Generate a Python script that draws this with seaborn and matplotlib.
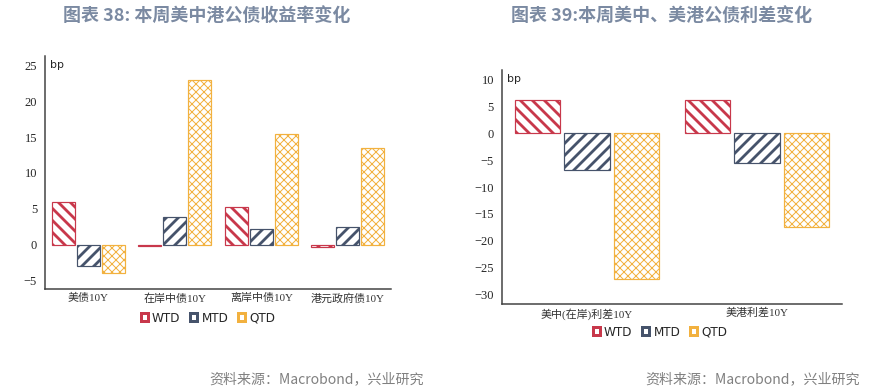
import pandas as pd
import numpy as np
import seaborn as sns
import matplotlib.pyplot as plt
from matplotlib.patches import Patch

# ---- data ----
series = ['WTD', 'MTD', 'QTD']

cats_l = ['美债10Y', '在岸中债10Y', '离岸中债10Y', '港元政府债10Y']
wtd_l = [6.0, -0.2, 5.3, -0.3]
mtd_l = [-3.0, 3.9, 2.1, 2.5]
qtd_l = [-4.0, 23.0, 15.4, 13.4]

cats_r = ['美中(在岸)利差10Y', '美港利差10Y']
wtd_r = [6.2, 6.2]
mtd_r = [-6.9, -5.6]
qtd_r = [-27.0, -17.4]

title_l = '图表 38: 本周美中港公债收益率变化'
title_r = '图表 39:本周美中、美港公债利差变化'
source = '资料来源：Macrobond，兴业研究'

colors = {'WTD': '#C8384B', 'MTD': '#46536B', 'QTD': '#F2B13F'}
hatches = {'WTD': '\\\\', 'MTD': '//', 'QTD': 'xxx'}
hatch_lw = {'WTD': 2.8, 'MTD': 2.8, 'QTD': 1.0}

sns.set_style('white')
plt.rcParams['font.family'] = ['Liberation Serif', 'Noto Sans CJK SC']
plt.rcParams['hatch.linewidth'] = 2.0
axis_col = '#404040'


def to_long(cats, w, m, q):
    rows = []
    for s, vals in zip(series, [w, m, q]):
        for c, v in zip(cats, vals):
            rows.append({'cat': c, 'series': s, 'val': v})
    return pd.DataFrame(rows)


def draw(ax, df, cats, ylim, yticks, legend_xy):
    sns.barplot(data=df, x='cat', y='val', hue='series', hue_order=series,
                palette=colors, fill=False, width=0.87, gap=0.08,
                linewidth=1.2, legend=False, errorbar=None, ax=ax)
    for s, cont in zip(series, ax.containers):
        for p in cont:
            p.set_hatch(hatches[s])
            p.set_edgecolor(colors[s])
            if hasattr(p, 'set_hatch_linewidth'):
                p.set_hatch_linewidth(hatch_lw[s])
    n = len(cats)
    ax.set_xlim(-0.5, n - 0.5)
    ax.set_ylim(*ylim)
    ax.set_yticks(yticks)
    ax.set_xticks(np.arange(n))
    ax.set_xticklabels(cats, fontsize=11, color='#333333')
    ax.set_xticks(np.arange(n + 1) - 0.5, minor=True)
    ax.tick_params(axis='x', which='major', length=0, pad=4)
    ax.tick_params(axis='x', which='minor', length=6, width=1.2, color=axis_col, direction='out')
    ax.tick_params(axis='y', length=5, width=1.2, color=axis_col, direction='out', labelsize=12.5, pad=3)
    ax.set_xlabel('')
    ax.set_ylabel('')
    for sp in ['top', 'right']:
        ax.spines[sp].set_visible(False)
    for sp in ['left', 'bottom']:
        ax.spines[sp].set_color(axis_col)
        ax.spines[sp].set_linewidth(1.5)
    ax.text(0.015, yticks[-1], 'bp', transform=ax.get_yaxis_transform(),
            fontsize=11, family=['DejaVu Sans'], va='center', ha='left')
    handles = [Patch(facecolor='white', edgecolor=colors[s], linewidth=3, label=s) for s in series]
    fig.legend(handles=handles, loc='center', bbox_to_anchor=legend_xy, ncol=3, frameon=False,
               prop={'family': 'DejaVu Sans', 'size': 12}, handlelength=0.6, handleheight=0.6,
               handletextpad=0.35, columnspacing=0.8)


fig = plt.figure(figsize=(879 / 72, 391 / 72), dpi=72)
ax1 = fig.add_axes([45 / 879, 1 - 289 / 391, 346 / 879, 233 / 391])
ax2 = fig.add_axes([502 / 879, 1 - 304 / 391, 340 / 879, 234 / 391])

draw(ax1, to_long(cats_l, wtd_l, mtd_l, qtd_l), cats_l, (-6.2, 26.3),
     [-5, 0, 5, 10, 15, 20, 25], (208 / 879, 1 - 318 / 391))
draw(ax2, to_long(cats_r, wtd_r, mtd_r, qtd_r), cats_r, (-31.7, 11.7),
     [-30, -25, -20, -15, -10, -5, 0, 5, 10], (660 / 879, 1 - 332 / 391))

title_col = '#7B8AA2'
fig.text(207 / 879, 1 - 16 / 391, title_l, ha='center', va='center', fontsize=18,
         fontweight='bold', color=title_col, family=['Noto Sans CJK SC'])
fig.text(662 / 879, 1 - 16 / 391, title_r, ha='center', va='center', fontsize=18,
         fontweight='bold', color=title_col, family=['Noto Sans CJK SC'])
fig.text(424 / 879, 1 - 379 / 391, source, ha='right', va='center', fontsize=14,
         color='#808080', family=['Noto Sans CJK SC'])
fig.text(860 / 879, 1 - 379 / 391, source, ha='right', va='center', fontsize=14,
         color='#808080', family=['Noto Sans CJK SC'])

fig.savefig('out.png', dpi=72)
